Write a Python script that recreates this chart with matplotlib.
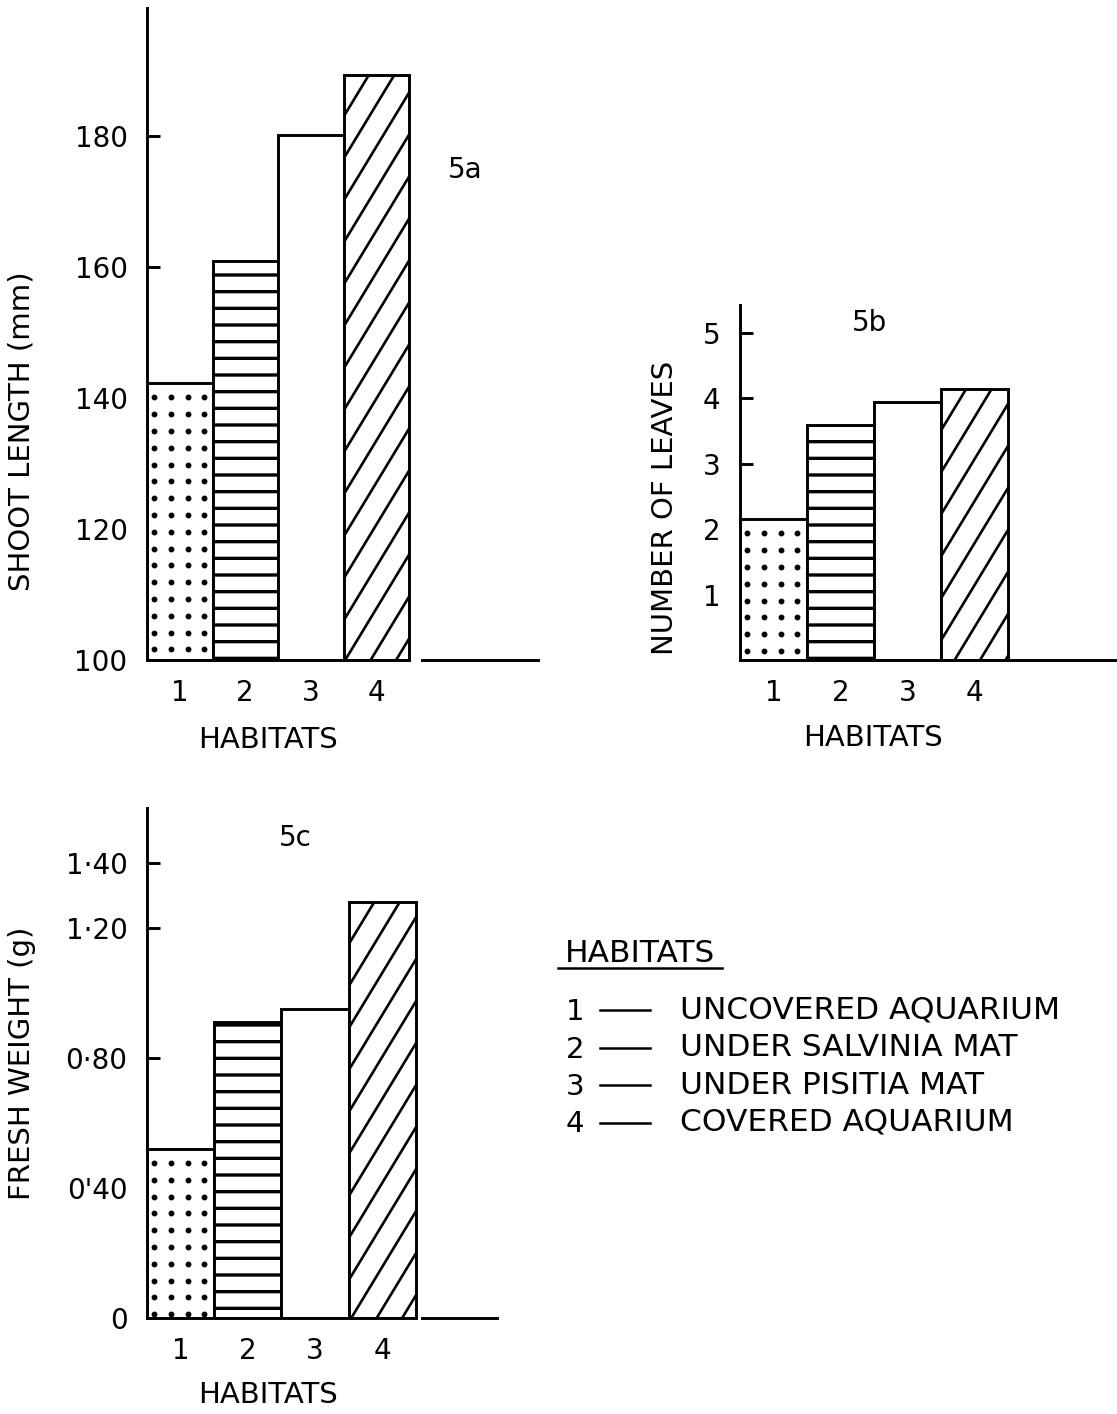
import numpy as np
import matplotlib
matplotlib.use("Agg")
import matplotlib.pyplot as plt
from matplotlib.lines import Line2D
from matplotlib.transforms import IdentityTransform

# values
habitats = [1, 2, 3, 4]
shoot_length = [142.2, 160.9, 180.1, 189.3]   # mm
leaves = [2.15, 3.6, 3.95, 4.15]
fresh_weight = [0.52, 0.91, 0.95, 1.28]       # g

length_ticks = [100, 120, 140, 160, 180]
leaf_ticks = [1, 2, 3, 4, 5]
weight_ticks = [0, 0.4, 0.8, 1.2, 1.4]
weight_labels = ['0', "0'40", '0·80', '1·20', '1·40']

legend_items = ['UNCOVERED AQUARIUM', 'UNDER SALVINIA MAT',
                'UNDER PISITIA MAT', 'COVERED AQUARIUM']

W, H = 1117, 1414
LW = 2.1
FS = 20
plt.rcParams['font.family'] = ['DejaVu Sans']
plt.rcParams['hatch.linewidth'] = 2.4

fig = plt.figure(figsize=(W / 100, H / 100), dpi=100)


def axes_px(left, top, right, bottom):
    return fig.add_axes([left / W, 1 - bottom / H, (right - left) / W, (bottom - top) / H])


def text_px(x, y, s, size=FS, **kw):
    fig.text(x / W, 1 - y / H, s, fontsize=size, **kw)


def dots(ax, bar, step=16.8):
    x0, y0, x1, y1 = bar.get_window_extent().extents
    gx, gy = np.meshgrid(np.arange(x0 + 7, x1 - 3, step), np.arange(y1 - 14, y0 + 2, -step))
    ln, = ax.plot(gx.ravel(), gy.ravel(), 'o', color='k', ms=3.2, transform=IdentityTransform())
    ln.set_clip_path(bar)


def slants(ax, bar, gap=42, rise=1.65):
    x0, y0, x1, y1 = bar.get_window_extent().extents
    w = x1 - x0
    for ys in np.arange(y1, y0 - rise * w, -gap):
        ln, = ax.plot([x0, x1], [ys, ys + rise * w], color='k', lw=1.9,
                      transform=IdentityTransform())
        ln.set_clip_path(bar)


def panel(ax, values, base, xlim, ylim):
    ax.set_xlim(*xlim)
    ax.set_ylim(*ylim)
    bars = ax.bar(habitats, np.array(values) - base, width=1, bottom=base,
                  color='white', edgecolor='k', linewidth=LW, zorder=2)
    bars[1].set_hatch('-')
    dots(ax, bars[0])
    slants(ax, bars[3])
    for side in ('top', 'right'):
        ax.spines[side].set_visible(False)
    ax.spines['left'].set_linewidth(LW)
    ax.spines['bottom'].set_linewidth(LW)
    ax.set_xticks(habitats)
    ax.tick_params(axis='y', direction='in', length=9, width=LW, pad=14, labelsize=FS)
    ax.tick_params(axis='x', length=0, pad=14, labelsize=FS)
    ax.patch.set_alpha(0)
    return bars


# 5a
ax1 = axes_px(147, 8, 540, 660)
panel(ax1, shoot_length, 100, (0.5, 6.5), (100, 199.5))
ax1.set_yticks(length_ticks)
ax1.spines['bottom'].set_bounds(0.5, 4.5)
ax1.plot([4.7, 6.47], [100, 100], color='k', lw=LW, clip_on=False)

# 5b
ax2 = axes_px(740, 305, 1117, 660)
panel(ax2, leaves, 0, (0.5, 6.13), (0, 5.43))
ax2.set_yticks(leaf_ticks)

# 5c
ax3 = axes_px(147, 808, 500, 1318)
panel(ax3, fresh_weight, 0, (0.5, 5.75), (0, 1.57))
ax3.set_yticks(weight_ticks)
ax3.set_yticklabels(weight_labels)
ax3.spines['bottom'].set_bounds(0.5, 4.5)
ax3.plot([4.59, 5.7], [0, 0], color='k', lw=LW, clip_on=False)

# panel tags and axis titles
text_px(465, 170, '5a', ha='center', va='center')
text_px(870, 323, '5b', ha='center', va='center')
text_px(295, 838, '5c', ha='center', va='center')

text_px(22, 431, 'SHOOT LENGTH (mm)', size=21, rotation=90, ha='center', va='center')
text_px(665, 508, 'NUMBER OF LEAVES', size=21, rotation=90, ha='center', va='center')
text_px(22, 1063, 'FRESH WEIGHT (g)', size=21, rotation=90, ha='center', va='center')

text_px(268, 740, 'HABITATS', size=21, ha='center', va='center')
text_px(873, 738, 'HABITATS', size=21, ha='center', va='center')
text_px(268, 1395, 'HABITATS', size=21, ha='center', va='center')

# key
text_px(640, 953, 'HABITATS', size=22.5, ha='center', va='center')
fig.add_artist(Line2D([558 / W, 722 / W], [1 - 968 / H] * 2, color='k', lw=1.8))
for i, name in enumerate(legend_items):
    y = 1010 + i * 37.5
    text_px(575, y + 2, str(habitats[i]), size=21, ha='center', va='center')
    fig.add_artist(Line2D([600 / W, 650 / W], [1 - y / H] * 2, color='k', lw=1.8))
    text_px(680, y, name, size=22.5, ha='left', va='center')

fig.savefig('out.png', dpi=100, facecolor='white')
